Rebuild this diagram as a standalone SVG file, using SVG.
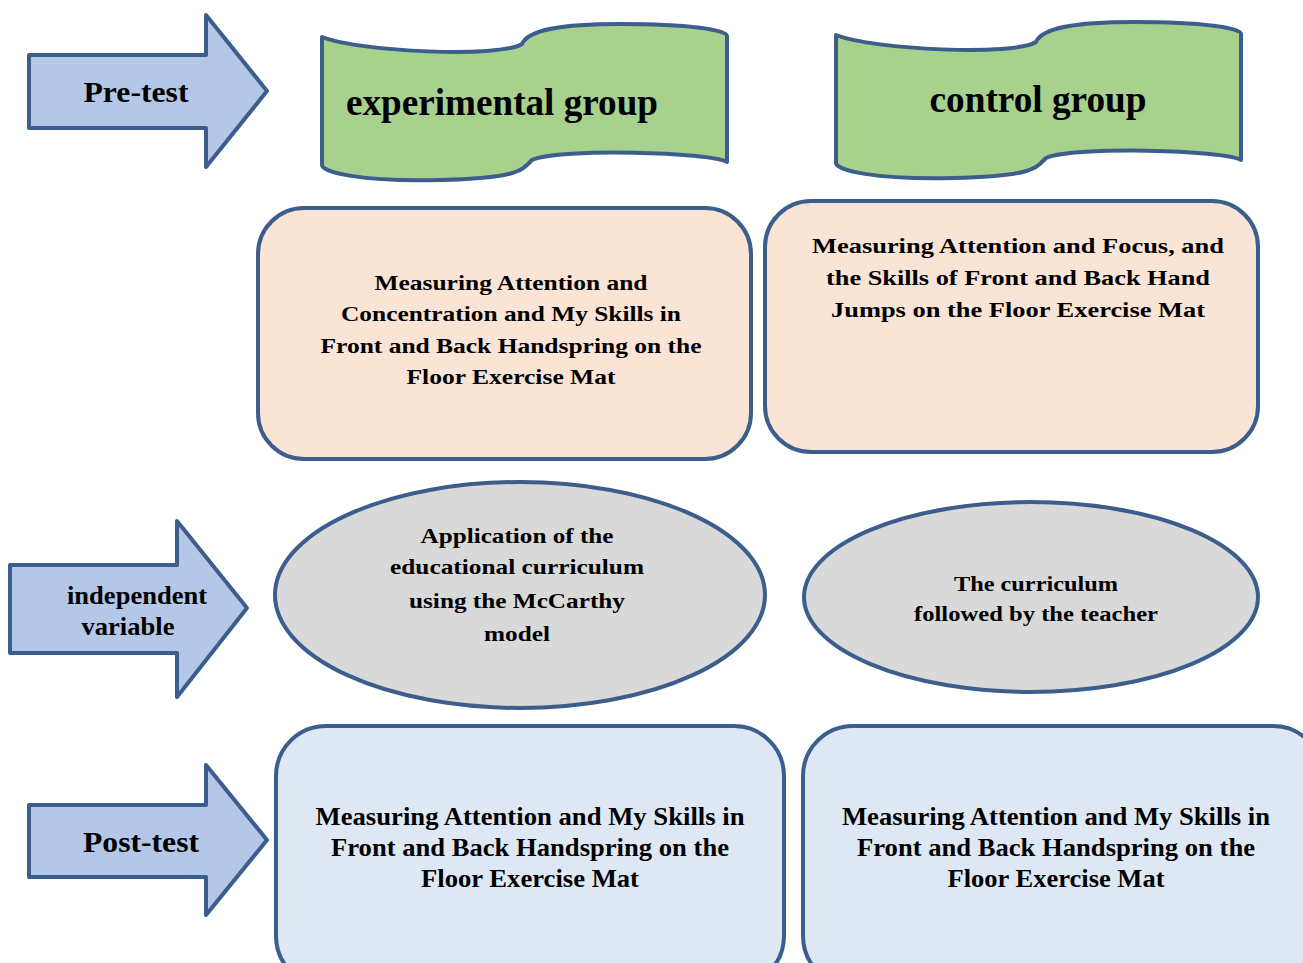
<svg xmlns="http://www.w3.org/2000/svg" width="1303" height="963" viewBox="0 0 1303 963">
<style>
.s{stroke:#3c5e8c;stroke-width:4;stroke-linejoin:round}
.arrow{fill:#b4c7e7}
.wave{fill:#a9d18e}
.peach{fill:#fae4d6}
.grey{fill:#d9d9d9}
.blue{fill:#dee8f5}
text{font-family:"Liberation Serif","Times New Roman",serif;font-weight:bold;fill:#000;text-anchor:middle}
.t34{font-size:37px}
.t28{font-size:29px}
.t24{font-size:25px}
.t22{font-size:22px}
</style>
<defs>
<clipPath id="clipE1"><rect x="270" y="480" width="500" height="161"/></clipPath>
</defs>
<rect width="1303" height="963" fill="#fff"/>
<g id="connectors"></g>

<g id="pretest">
<path class="s arrow" d="M29,55 H206 V15 L267,91 L206,167 V128 H29 Z"/>
<text class="t28" x="136" y="102" textLength="105" lengthAdjust="spacingAndGlyphs">Pre-test</text>
</g>

<g id="experimental-group">
<path class="s wave" d="M322,37 C360,52 500,58 522,44 C528,30 560,24 620,24 C690,24 727,30 727,36 V162 C710,152 560,148 532,160 C522,170 520,178 440,180 C360,182 322,172 322,165 Z"/>
<text class="t34" x="502" y="115" textLength="312" lengthAdjust="spacingAndGlyphs">experimental group</text>
</g>

<g id="control-group">
<path class="s wave" d="M836,35 C874,50 1014,56 1036,42 C1042,28 1074,22 1134,22 C1204,22 1241,28 1241,34 V160 C1224,150 1074,146 1046,158 C1036,168 1034,176 954,178 C874,180 836,170 836,163 Z"/>
<text class="t34" x="1038" y="112" textLength="217" lengthAdjust="spacingAndGlyphs">control group</text>
</g>

<g id="pre-exp">
<rect class="s peach" x="258" y="208" width="493" height="251" rx="46"/>
<text class="t22" x="511" y="290" textLength="273" lengthAdjust="spacingAndGlyphs">Measuring Attention and</text>
<text class="t22" x="511" y="321" textLength="340" lengthAdjust="spacingAndGlyphs">Concentration and My Skills in</text>
<text class="t22" x="511" y="353" textLength="381" lengthAdjust="spacingAndGlyphs">Front and Back Handspring on the</text>
<text class="t22" x="511" y="384" textLength="209" lengthAdjust="spacingAndGlyphs">Floor Exercise Mat</text>
</g>

<g id="pre-ctrl">
<rect class="s peach" x="765" y="201" width="493" height="251" rx="46"/>
<text class="t22" x="1018" y="253" textLength="412" lengthAdjust="spacingAndGlyphs">Measuring Attention and Focus, and</text>
<text class="t22" x="1018" y="285" textLength="384" lengthAdjust="spacingAndGlyphs">the Skills of Front and Back Hand</text>
<text class="t22" x="1018" y="317" textLength="374" lengthAdjust="spacingAndGlyphs">Jumps on the Floor Exercise Mat</text>
</g>

<g id="independent-variable">
<path class="s arrow" d="M10,565 H177 V521 L247,608 L177,697 V653 H10 Z"/>
<text class="t24" x="137" y="604" textLength="140" lengthAdjust="spacingAndGlyphs">independent</text>
<text class="t24" x="128" y="635" textLength="93" lengthAdjust="spacingAndGlyphs">variable</text>
</g>

<g id="iv-exp">
<ellipse class="s grey" cx="520" cy="595" rx="245" ry="113"/>
<g clip-path="url(#clipE1)">
<text class="t22" x="517" y="543" textLength="193" lengthAdjust="spacingAndGlyphs">Application of the</text>
<text class="t22" x="517" y="574" textLength="254" lengthAdjust="spacingAndGlyphs">educational curriculum</text>
<text class="t22" x="517" y="608" textLength="216" lengthAdjust="spacingAndGlyphs">using the McCarthy</text>
<text class="t22" x="517" y="641" textLength="66" lengthAdjust="spacingAndGlyphs">model</text>
</g>
</g>

<g id="iv-ctrl">
<ellipse class="s grey" cx="1031" cy="597" rx="227" ry="95"/>
<text class="t22" x="1036" y="591" textLength="164" lengthAdjust="spacingAndGlyphs">The curriculum</text>
<text class="t22" x="1036" y="621" textLength="244" lengthAdjust="spacingAndGlyphs">followed by the teacher</text>
</g>

<g id="posttest">
<path class="s arrow" d="M29,805 H206 V765 L267,840 L206,915 V877 H29 Z"/>
<text class="t28" x="141" y="852" textLength="116" lengthAdjust="spacingAndGlyphs">Post-test</text>
</g>

<g id="post-exp">
<rect class="s blue" x="276" y="726" width="508" height="260" rx="50"/>
<text class="t24" x="530" y="825" textLength="429" lengthAdjust="spacingAndGlyphs">Measuring Attention and My Skills in</text>
<text class="t24" x="530" y="856" textLength="398" lengthAdjust="spacingAndGlyphs">Front and Back Handspring on the</text>
<text class="t24" x="530" y="887" textLength="218" lengthAdjust="spacingAndGlyphs">Floor Exercise Mat</text>
</g>

<g id="post-ctrl">
<rect class="s blue" x="803" y="726" width="520" height="260" rx="50"/>
<text class="t24" x="1056" y="825" textLength="428" lengthAdjust="spacingAndGlyphs">Measuring Attention and My Skills in</text>
<text class="t24" x="1056" y="856" textLength="398" lengthAdjust="spacingAndGlyphs">Front and Back Handspring on the</text>
<text class="t24" x="1056" y="887" textLength="217" lengthAdjust="spacingAndGlyphs">Floor Exercise Mat</text>
</g>
</svg>
